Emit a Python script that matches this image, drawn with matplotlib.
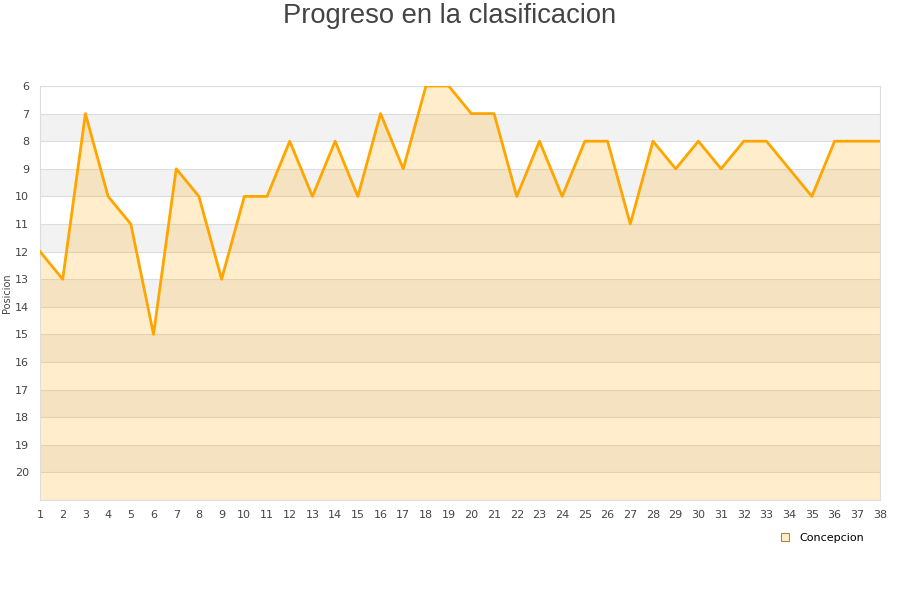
import matplotlib
matplotlib.use("Agg")
import matplotlib.pyplot as plt
from matplotlib.lines import Line2D

jornadas = list(range(1, 39))
posicion = [12, 13, 7, 10, 11, 15, 9, 10, 13, 10, 10, 8, 10, 8, 10, 7, 9, 6, 6, 7,
            7, 10, 8, 10, 8, 8, 11, 8, 9, 8, 9, 8, 8, 9, 10, 8, 8, 8]
yticks = list(range(6, 21))
equipo = "Concepcion"
titulo = "Progreso en la clasificacion"

fig = plt.figure(figsize=(9, 6), dpi=100)
ax = fig.add_axes([40/900, 1-500/600, 840/900, 414/600])

ymin, ymax = 6, 21
# alternating background bands
for k in range(ymin, ymax):
    if k % 2 == 1:
        ax.axhspan(k, k+1, color="#f2f2f2", lw=0, zorder=0)
for k in range(ymin, ymax+1):
    ax.axhline(k, color="#dddddd", lw=0.8, zorder=1)

ax.fill_between(jornadas, posicion, ymax, color="#ffa500", alpha=0.2, lw=0, zorder=2)
ax.plot(jornadas, posicion, color="#ffa500", lw=2, zorder=3)

ax.set_xlim(1, 38)
ax.set_ylim(ymax, ymin)
ax.set_xticks(jornadas)
ax.set_yticks(yticks)
ax.tick_params(axis="both", length=0, labelsize=8, colors="#444444")
ax.tick_params(axis="x", pad=7)
ax.tick_params(axis="y", pad=8)
for s in ax.spines.values():
    s.set_color("#dddddd")
    s.set_linewidth(0.8)
ax.set_ylabel("Posicion", fontsize=7, color="#444444", labelpad=2)

fig.text(0.5, 1-16/600, titulo, ha="center", va="center", fontsize=19.7,
         color="#444444", family=["Liberation Sans", "DejaVu Sans"])

handle = Line2D([], [], marker="s", linestyle="none", markersize=6,
                markerfacecolor="#ffeecc", markeredgecolor="#aa8844", markeredgewidth=0.8)
fig.legend([handle], [equipo], loc="center", bbox_to_anchor=(819/900, 1-538/600),
           frameon=False, fontsize=8, handletextpad=0.3, borderaxespad=0)

fig.savefig("out.png", dpi=100)
